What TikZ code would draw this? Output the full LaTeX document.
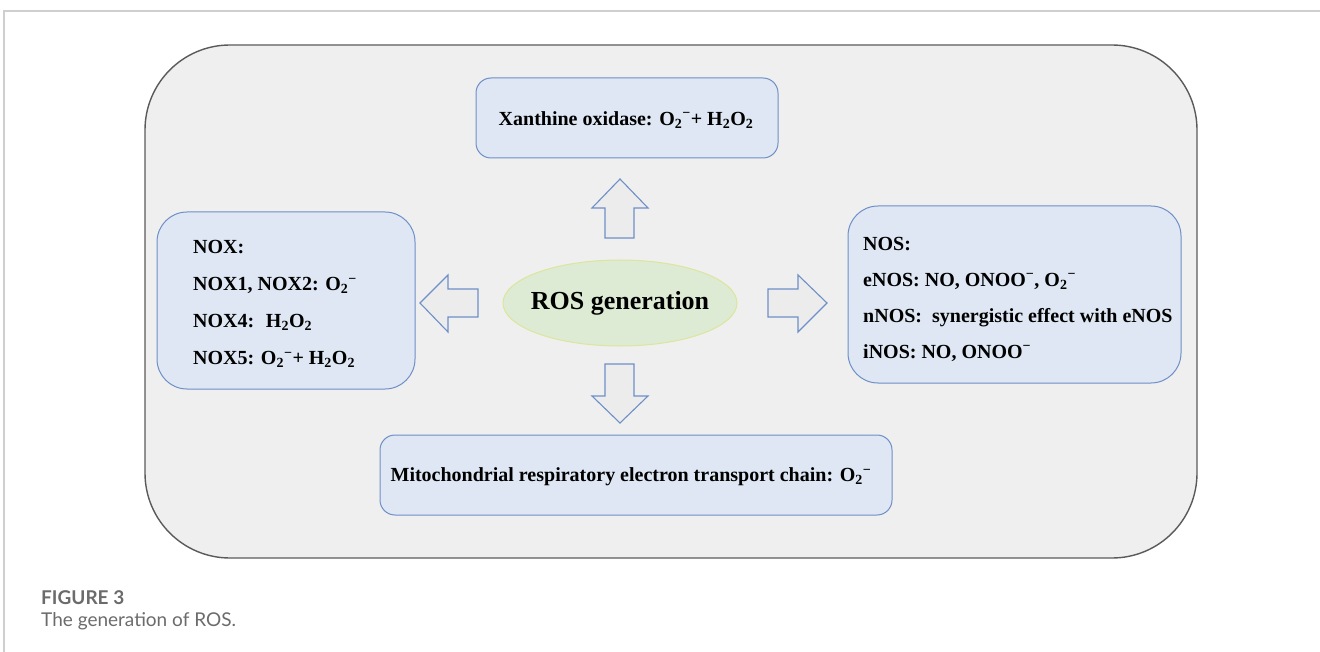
\documentclass[tikz,border=0pt]{standalone}
\usepackage{fontspec}
\setmainfont{Liberation Serif}
\newfontfamily\capfont{Lato}
\usetikzlibrary{shapes.geometric}
\definecolor{outerfill}{HTML}{EFEFEF}
\definecolor{outerdraw}{HTML}{5A5A5A}
\definecolor{boxfill}{HTML}{DEE7F3}
\definecolor{boxdraw}{HTML}{6E8FC7}
\definecolor{ellfill}{HTML}{DDEBD4}
\definecolor{elldraw}{HTML}{DCE59C}
\definecolor{arrfill}{HTML}{ECECEC}
\definecolor{framegray}{HTML}{CFCFCF}
\definecolor{capgray}{HTML}{6B6B6B}
\newcommand{\oxm}{O\textsubscript{2}\textsuperscript{−}}
\newcommand{\hoo}{H\textsubscript{2}O\textsubscript{2}}
\tikzset{
  infobox/.style={draw=boxdraw, fill=boxfill, line width=1pt, rectangle, inner sep=0pt},
  boxtext/.style={font=\fontsize{20}{37}\selectfont\bfseries, inner sep=0pt, align=left},
  blockarrow/.style={draw=boxdraw, fill=arrfill, line width=1.1pt, line join=miter},
}
\begin{document}
\begin{tikzpicture}[x=1pt,y=-1pt]
\useasboundingbox (0,0) rectangle (1320,652);
\draw[framegray, line width=1.5pt] (1320,11) -- (4,11) -- (4,652);
\draw[draw=outerdraw, fill=outerfill, line width=1.4pt, rounded corners=85pt] (145,45) rectangle (1197,558);
% boxes
\node[infobox, rounded corners=15pt, minimum width=302pt, minimum height=80pt] (xo) at (627,118) {};
\node[font=\fontsize{20}{24}\selectfont\bfseries, inner sep=0pt] (xotext) at (626,120) {Xanthine oxidase: \oxm+ \hoo};
\node[infobox, rounded corners=30pt, minimum width=258pt, minimum height=177pt] (nox) at (286,300.5) {};
\node[boxtext, anchor=west] (noxtext) at (193,304) {NOX:\\NOX1, NOX2: \oxm\\NOX4: \ \hoo\\NOX5: \oxm+ \hoo};
\node[infobox, rounded corners=30pt, minimum width=333pt, minimum height=177pt] (nos) at (1014.5,294.5) {};
\node[boxtext, anchor=west, font=\fontsize{20}{36}\selectfont\bfseries] (nostext) at (863,299) {NOS:\\eNOS: NO, ONOO\textsuperscript{−}, \oxm\\nNOS: \ synergistic effect with eNOS\\iNOS: NO, ONOO\textsuperscript{−}};
\node[infobox, rounded corners=15pt, minimum width=512pt, minimum height=80pt] (mito) at (636,475) {};
\node[font=\fontsize{20}{24}\selectfont\bfseries, inner sep=0pt] (mitotext) at (631,477) {Mitochondrial respiratory electron transport chain: \oxm};
% ellipse
\node[ellipse, draw=elldraw, fill=ellfill, line width=1pt, minimum width=234pt, minimum height=86pt, inner xsep=-7pt, inner ysep=10pt, font=\fontsize{26}{30}\selectfont\bfseries] (ros) at (620,303) {ROS generation};
% block arrows
\draw[blockarrow] (605,238) -- (605,208) -- (592,208) -- (620,179) -- (648,208) -- (634,208) -- (634,238) -- cycle;
\draw[blockarrow] (605,364) -- (605,396) -- (592,396) -- (620,423) -- (648,396) -- (634,396) -- (634,364) -- cycle;
\draw[blockarrow] (478,289) -- (448,289) -- (448,275) -- (420,303) -- (448,332) -- (448,317) -- (478,317) -- cycle;
\draw[blockarrow] (768,289) -- (798,289) -- (798,275) -- (827,303) -- (798,332) -- (798,317) -- (768,317) -- cycle;
% caption
\node[anchor=base west, inner sep=0pt, text=capgray, font=\capfont\fontsize{19}{22}\selectfont\bfseries] (figlabel) at (41,604) {FIGURE 3};
\node[anchor=base west, inner sep=0pt, text=capgray, font=\capfont\fontsize{19}{22}\selectfont] (figcap) at (41,626) {The generation of ROS.};
\end{tikzpicture}
\end{document}
